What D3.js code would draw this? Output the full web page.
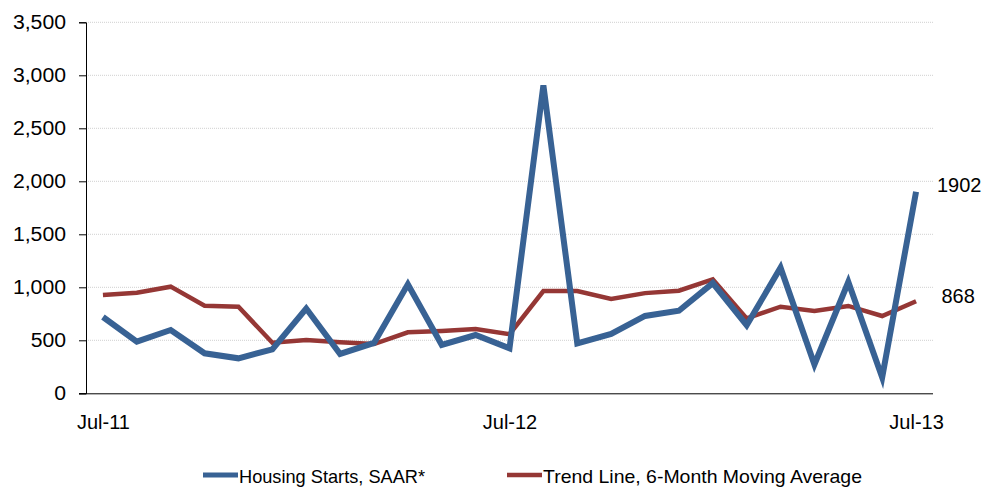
<!DOCTYPE html>
<html>
<head>
<meta charset="utf-8">
<script src="https://cdn.jsdelivr.net/npm/d3@7"></script>
<style>
  body { margin: 0; background: #fff; }
  text { font-family: "Liberation Sans", Arial, sans-serif; fill: #000; }
  .grid line { stroke: #d0d0d0; stroke-dasharray: 1,1; }
</style>
</head>
<body>
<div id="chart"></div>
<script>
// months Jul-11 .. Jul-13
var months = ["Jul-11","Aug-11","Sep-11","Oct-11","Nov-11","Dec-11","Jan-12","Feb-12","Mar-12","Apr-12","May-12","Jun-12",
  "Jul-12","Aug-12","Sep-12","Oct-12","Nov-12","Dec-12","Jan-13","Feb-13","Mar-13","Apr-13","May-13","Jun-13","Jul-13"];
var starts = [720, 487, 597, 377, 330, 415, 800, 371, 475, 1028, 456, 550, 424, 2905, 471, 560, 730, 779, 1040, 642, 1185, 272, 1050, 150, 1902];
var trend = [927, 949, 1006, 826, 817, 477, 503, 481, 465, 575, 588, 607, 557, 965, 965, 890, 945, 968, 1075, 707, 817, 776, 824, 729, 868];
var xTickLabels = ["Jul-11", "Jul-12", "Jul-13"];
var yTicks = [0, 500, 1000, 1500, 2000, 2500, 3000, 3500];
var seriesNames = ["Housing Starts, SAAR*", "Trend Line, 6-Month Moving Average"];
var seriesColors = ["#386294", "#953735"];

var width = 987, height = 488;
var plot = { left: 86, right: 933, top: 22.3, bottom: 393.3 };

var svg = d3.select("#chart").append("svg")
  .attr("width", width)
  .attr("height", height);

var x = d3.scalePoint().domain(months).range([plot.left, plot.right]).padding(0.5);
var y = d3.scaleLinear().domain([0, 3500]).range([plot.bottom, plot.top]);

// gridlines
svg.append("g").attr("class", "grid")
  .selectAll("line")
  .data(yTicks.filter(function (d) { return d > 0; }))
  .enter().append("line")
  .attr("x1", plot.left).attr("x2", plot.right)
  .attr("y1", function (d) { return y(d); })
  .attr("y2", function (d) { return y(d); });

// y axis
var yAxis = svg.append("g")
  .attr("transform", "translate(" + plot.left + ",0)")
  .call(d3.axisLeft(y).tickValues(yTicks).tickSize(7).tickPadding(13).tickFormat(d3.format(",")));
yAxis.select(".domain").attr("stroke", "#000");
yAxis.selectAll(".tick line").attr("stroke", "#000");
yAxis.selectAll("text")
  .style("font-size", "20px")
  .style("font-family", "Liberation Sans, Arial, sans-serif")
  .each(function () {
    var w = this.getComputedTextLength();
    d3.select(this).attr("textLength", w * 1.06).attr("lengthAdjust", "spacingAndGlyphs");
  });

// x axis
var xAxis = svg.append("g")
  .attr("transform", "translate(0," + plot.bottom + ")")
  .call(d3.axisBottom(x).tickValues(xTickLabels).tickSize(0).tickPadding(22).tickSizeOuter(0));
xAxis.select(".domain").attr("stroke", "#000").attr("d", "M" + (plot.left - 7) + ",0.5H" + plot.right);
xAxis.selectAll("text").style("font-size", "20px").style("font-family", "Liberation Sans, Arial, sans-serif");

// lines
var line = d3.line()
  .x(function (d, i) { return x(months[i]); })
  .y(function (d) { return y(d); });

svg.append("path").datum(trend)
  .attr("d", line).attr("fill", "none")
  .attr("stroke", seriesColors[1]).attr("stroke-width", 4.5);

svg.append("path").datum(starts)
  .attr("d", line).attr("fill", "none")
  .attr("stroke", seriesColors[0]).attr("stroke-width", 6);

// end labels
var last = months.length - 1;
svg.append("text")
  .attr("x", 937).attr("y", y(starts[last]) - 7)
  .attr("dy", "0.35em")
  .style("font-size", "20px")
  .text(starts[last]);
svg.append("text")
  .attr("x", 941.5).attr("y", y(trend[last]) - 5)
  .attr("dy", "0.35em")
  .style("font-size", "20px")
  .text(trend[last]);

// legend
var legendItems = [
  { x1: 203, x2: 238, tx: 239, tw: 186, w: 5 },
  { x1: 507, x2: 542, tx: 543, tw: 319, w: 4.5 }
];
var lg = svg.append("g");
legendItems.forEach(function (d, i) {
  lg.append("line")
    .attr("x1", d.x1).attr("x2", d.x2)
    .attr("y1", 475).attr("y2", 475)
    .attr("stroke", seriesColors[i]).attr("stroke-width", d.w);
  lg.append("text")
    .attr("x", d.tx).attr("y", 482.5)
    .style("font-size", "18.5px")
    .attr("textLength", d.tw)
    .attr("lengthAdjust", "spacingAndGlyphs")
    .text(seriesNames[i]);
});
</script>
</body>
</html>
